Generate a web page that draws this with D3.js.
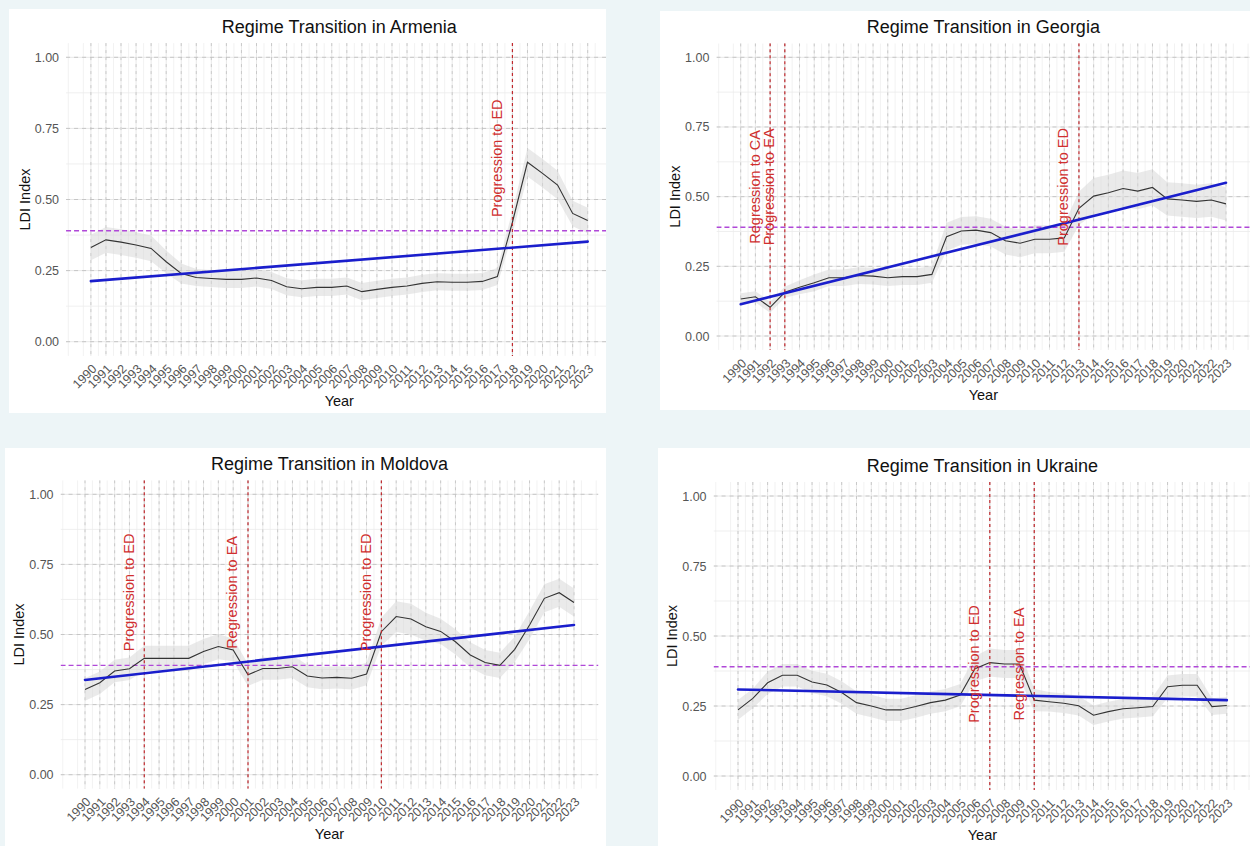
<!DOCTYPE html>
<html>
<head>
<meta charset="utf-8">
<script src="https://cdn.jsdelivr.net/npm/d3@7"></script>
<style>
  body { margin: 0; background: #edf5f7; }
  svg { display: block; font-family: "Liberation Sans", Arial, sans-serif; }
</style>
</head>
<body>
<script>
// years on the x axis
var years = [1990,1991,1992,1993,1994,1995,1996,1997,1998,1999,2000,2001,2002,2003,2004,2005,2006,
             2007,2008,2009,2010,2011,2012,2013,2014,2015,2016,2017,2018,2019,2020,2021,2022,2023];

// LDI index
var armenia = [0.331,0.358,0.350,0.340,0.328,0.281,0.240,0.226,0.222,0.219,0.219,0.224,0.215,0.193,0.186,0.191,0.191,
               0.196,0.176,0.184,0.191,0.196,0.205,0.211,0.209,0.209,0.212,0.229,0.420,0.631,0.592,0.551,0.451,0.426];
var georgia = [0.133,0.141,0.103,0.157,0.175,0.191,0.209,0.209,0.217,0.215,0.209,0.213,0.213,0.221,0.356,0.377,0.380,
               0.371,0.342,0.333,0.347,0.347,0.352,0.458,0.502,0.514,0.529,0.520,0.533,0.492,0.488,0.483,0.488,0.474];
var moldova = [0.304,0.328,0.370,0.378,0.415,0.415,0.415,0.415,0.439,0.457,0.445,0.356,0.379,0.379,0.385,0.352,0.345,
               0.347,0.344,0.359,0.510,0.564,0.555,0.528,0.511,0.474,0.427,0.400,0.390,0.447,0.534,0.629,0.649,0.614];
var ukraine = [0.236,0.277,0.333,0.360,0.360,0.336,0.325,0.298,0.262,0.250,0.236,0.236,0.248,0.262,0.271,0.289,0.383,
               0.405,0.400,0.400,0.271,0.265,0.260,0.251,0.217,0.230,0.240,0.244,0.248,0.319,0.324,0.324,0.248,0.252];

// half width of the grey band round each line
var armeniaBand = [0.045,0.045,0.045,0.045,0.045,0.04,0.035,0.03,0.03,0.03,0.03,0.03,0.03,0.03,0.03,0.03,0.03,
                   0.03,0.03,0.03,0.03,0.03,0.03,0.03,0.03,0.03,0.03,0.03,0.04,0.05,0.05,0.05,0.045,0.045];
var georgiaBand = [0.02,0.02,0.02,0.02,0.025,0.03,0.03,0.03,0.03,0.03,0.03,0.03,0.03,0.03,0.05,0.05,0.05,
                   0.05,0.05,0.05,0.05,0.05,0.05,0.06,0.065,0.065,0.065,0.065,0.065,0.06,0.06,0.06,0.06,0.06];
var moldovaBand = [0.04,0.04,0.04,0.04,0.045,0.045,0.045,0.045,0.045,0.045,0.04,0.04,0.04,0.04,0.04,0.04,0.04,
                   0.04,0.04,0.04,0.05,0.055,0.055,0.05,0.045,0.045,0.045,0.045,0.045,0.045,0.05,0.05,0.05,0.05];
var ukraineBand = [0.035,0.035,0.04,0.04,0.04,0.04,0.04,0.04,0.04,0.04,0.04,0.04,0.04,0.04,0.04,0.04,0.045,
                   0.05,0.05,0.05,0.04,0.035,0.035,0.035,0.035,0.035,0.035,0.035,0.035,0.04,0.04,0.04,0.03,0.03];

// linear trend: value in 1990 and in 2023
var armeniaTrend = [0.213, 0.352];
var georgiaTrend = [0.114, 0.550];
var moldovaTrend = [0.338, 0.534];
var ukraineTrend = [0.309, 0.271];

// regime changes
var armeniaEventYears = [2018];
var armeniaEventLabels = ["Progression to ED"];
var georgiaEventYears = [1992, 1993, 2013];
var georgiaEventLabels = ["Regression to CA", "Progression to EA", "Progression to ED"];
var moldovaEventYears = [1994, 2001, 2010];
var moldovaEventLabels = ["Progression to ED", "Regression to EA", "Progression to ED"];
var ukraineEventYears = [2007, 2010];
var ukraineEventLabels = ["Progression to ED", "Regression to EA"];
// height of the middle of the event labels
var eventLabelLevel = [0.645, 0.535, 0.65, 0.40];

var threshold = 0.39;
var yTicks = [0, 0.25, 0.5, 0.75, 1];
var yMinor = [0.125, 0.375, 0.625, 0.875];

var svg = d3.select("body").append("svg")
    .attr("width", 1250)
    .attr("height", 846);

//panel layout in pixels
var panels = [
    {name: "Armenia", values: armenia, band: armeniaBand, trend: armeniaTrend, evYears: armeniaEventYears, evLabels: armeniaEventLabels, evLevel: eventLabelLevel[0],
     box: [9, 9, 597, 404], x: [90.9, 587.7], y: [341.7, 57.3]},
    {name: "Georgia", values: georgia, band: georgiaBand, trend: georgiaTrend, evYears: georgiaEventYears, evLabels: georgiaEventLabels, evLevel: eventLabelLevel[1],
     box: [660, 11, 590, 399], x: [740.7, 1226], y: [336, 57.3]},
    {name: "Moldova", values: moldova, band: moldovaBand, trend: moldovaTrend, evYears: moldovaEventYears, evLabels: moldovaEventLabels, evLevel: eventLabelLevel[2],
     box: [5, 448, 601, 398], x: [85, 574], y: [774.7, 494.3]},
    {name: "Ukraine", values: ukraine, band: ukraineBand, trend: ukraineTrend, evYears: ukraineEventYears, evLabels: ukraineEventLabels, evLevel: eventLabelLevel[3],
     box: [658, 448, 592, 398], x: [738, 1226.8], y: [776, 496]}
];

panels.forEach(function(p, i) {
    drawPanel(p, i);
});

function drawPanel(p, i) {
    var x = d3.scaleLinear().domain([1990, 2023]).range(p.x);
    var y = d3.scaleLinear().domain([0, 1]).range(p.y);

    var left = x(1990 - 1.65), right = x(2023 + 1.65),
        top = y(1.05), bottom = y(-0.05);

    var g = svg.append("g").attr("class", "panel");

    //white background
    g.append("rect")
        .attr("x", p.box[0]).attr("y", p.box[1])
        .attr("width", p.box[2]).attr("height", p.box[3])
        .attr("fill", "#ffffff");

    //clip to the plot area inside the white box
    var clipId = "clip" + i;
    var cl = Math.max(left, p.box[0]), cr = Math.min(right, p.box[0] + p.box[2]);
    svg.append("clipPath").attr("id", clipId)
        .append("rect")
        .attr("x", cl).attr("y", top)
        .attr("width", cr - cl).attr("height", bottom - top);

    var plot = g.append("g").attr("clip-path", "url(#" + clipId + ")");

    var halfYears = years.map(function(d) { return d - 0.5; }).concat([2023.5, 2024.5, 1988.5]);

    //light solid grid
    plot.selectAll(".vminor").data(halfYears).enter().append("line")
        .attr("x1", function(d) { return x(d); }).attr("x2", function(d) { return x(d); })
        .attr("y1", top).attr("y2", bottom)
        .attr("stroke", "#ececec").attr("stroke-width", 0.7);
    plot.selectAll(".vmajor").data(years).enter().append("line")
        .attr("x1", function(d) { return x(d); }).attr("x2", function(d) { return x(d); })
        .attr("y1", top).attr("y2", bottom)
        .attr("stroke", "#e8e8e8").attr("stroke-width", 1);
    plot.selectAll(".hminor").data(yMinor).enter().append("line")
        .attr("x1", left).attr("x2", right)
        .attr("y1", function(d) { return y(d); }).attr("y2", function(d) { return y(d); })
        .attr("stroke", "#ebebeb").attr("stroke-width", 0.8);
    plot.selectAll(".hmajor").data(yTicks).enter().append("line")
        .attr("x1", left).attr("x2", right)
        .attr("y1", function(d) { return y(d); }).attr("y2", function(d) { return y(d); })
        .attr("stroke", "#e8e8e8").attr("stroke-width", 1);

    //dashed grid on top
    plot.selectAll(".vdash").data(years).enter().append("line")
        .attr("x1", function(d) { return x(d); }).attr("x2", function(d) { return x(d); })
        .attr("y1", top).attr("y2", bottom)
        .attr("stroke", "#c0c0c0").attr("stroke-width", 0.8)
        .attr("stroke-dasharray", "3,4");
    plot.selectAll(".hdash").data(yTicks).enter().append("line")
        .attr("x1", left).attr("x2", right)
        .attr("y1", function(d) { return y(d); }).attr("y2", function(d) { return y(d); })
        .attr("stroke", "#bdbdbd").attr("stroke-width", 0.8)
        .attr("stroke-dasharray", "4,4");

    var pts = years.map(function(d, k) { return {year: d, v: p.values[k], se: p.band[k]}; });

    //grey band
    plot.append("path")
        .datum(pts)
        .attr("fill", "#d6d6d6")
        .attr("fill-opacity", 0.5)
        .attr("d", d3.area()
            .x(function(d) { return x(d.year); })
            .y0(function(d) { return y(d.v - d.se); })
            .y1(function(d) { return y(d.v + d.se); }));

    //threshold
    plot.append("line")
        .attr("x1", left).attr("x2", right)
        .attr("y1", y(threshold)).attr("y2", y(threshold))
        .attr("stroke", "#b048d8").attr("stroke-width", 1.4)
        .attr("stroke-dasharray", "5,3");

    //LDI line
    plot.append("path")
        .datum(pts)
        .attr("fill", "none")
        .attr("stroke", "#333333")
        .attr("stroke-width", 1.1)
        .attr("d", d3.line()
            .x(function(d) { return x(d.year); })
            .y(function(d) { return y(d.v); }));

    //regime change lines
    plot.selectAll(".event").data(p.evYears).enter().append("line")
        .attr("x1", function(d) { return x(d); }).attr("x2", function(d) { return x(d); })
        .attr("y1", top).attr("y2", bottom)
        .attr("stroke", "#c0282d").attr("stroke-width", 1.2)
        .attr("stroke-dasharray", "3,3");

    //trend line
    plot.append("line")
        .attr("x1", x(1990)).attr("x2", x(2023))
        .attr("y1", y(p.trend[0])).attr("y2", y(p.trend[1]))
        .attr("stroke", "#1a1ecc").attr("stroke-width", 2.6)
        .attr("stroke-linecap", "round");

    //event labels
    p.evYears.forEach(function(d, k) {
        var lx = x(d - 1.05), ly = y(p.evLevel);
        plot.append("text")
            .attr("transform", "translate(" + lx + "," + ly + ") rotate(-90)")
            .attr("text-anchor", "middle")
            .attr("dominant-baseline", "central")
            .attr("fill", "#d02f2f")
            .style("font-size", "14.5px")
            .text(p.evLabels[k]);
    });

    //y axis
    var yAxis = g.append("g")
        .attr("transform", "translate(" + left + ",0)")
        .call(d3.axisLeft(y).tickValues(yTicks).tickFormat(d3.format(".2f")).tickSize(0).tickPadding(7));
    yAxis.select(".domain").remove();
    yAxis.selectAll("text").attr("fill", "#555").style("font-size", "12.5px");

    //x axis
    var xAxis = g.append("g")
        .attr("transform", "translate(0," + y(0) + ")")
        .call(d3.axisBottom(x).tickValues(years).tickFormat(d3.format("d")).tickSize(0));
    xAxis.select(".domain").remove();
    xAxis.selectAll("text")
        .attr("x", 0).attr("y", 0).attr("dy", 0)
        .attr("text-anchor", "end")
        .attr("transform", "translate(6,28) rotate(-45)")
        .attr("fill", "#555")
        .style("font-size", "12.5px");

    //titles
    var cx = (left + right) / 2;
    g.append("text")
        .attr("x", cx).attr("y", p.y[1] - 30)
        .attr("text-anchor", "middle").attr("dominant-baseline", "central")
        .style("font-size", "18px").attr("fill", "#111")
        .text("Regime Transition in " + p.name);
    g.append("text")
        .attr("x", cx).attr("y", p.y[0] + 59)
        .attr("text-anchor", "middle").attr("dominant-baseline", "central")
        .style("font-size", "14.5px").attr("fill", "#111")
        .text("Year");
    g.append("text")
        .attr("transform", "translate(" + (left - 41.5) + "," + y(0.5) + ") rotate(-90)")
        .attr("text-anchor", "middle").attr("dominant-baseline", "central")
        .style("font-size", "14.5px").attr("fill", "#111")
        .text("LDI Index");
}
</script>
</body>
</html>
